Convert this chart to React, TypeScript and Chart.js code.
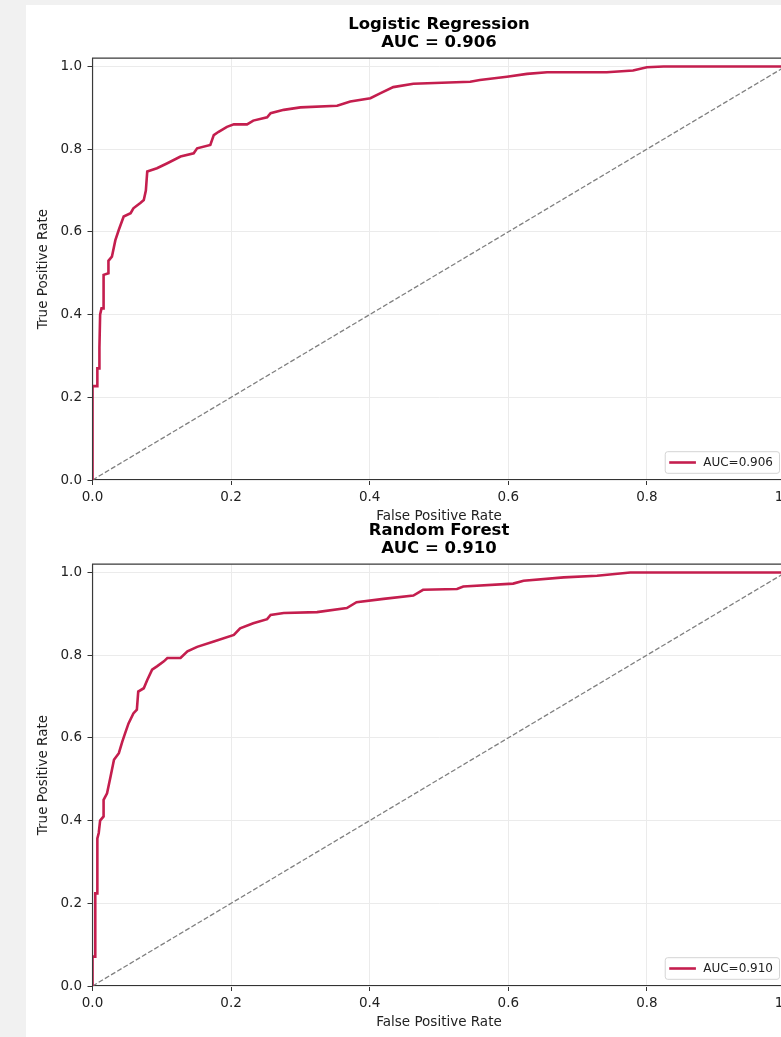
import React, { useEffect, useRef } from 'react';
import { Chart, registerables } from 'chart.js';

Chart.register(...registerables);

// ---- data ----
const models = ['Logistic Regression', 'Random Forest'];
const aucs = ['0.906', '0.910'];

const lrFpr = [0, 0, 0.007, 0.007, 0.010, 0.010, 0.011, 0.013, 0.016, 0.016, 0.023, 0.023, 0.028, 0.033, 0.038, 0.045, 0.055, 0.059, 0.069, 0.074, 0.077, 0.079, 0.093, 0.108, 0.127, 0.146, 0.151, 0.170, 0.175, 0.182, 0.194, 0.204, 0.223, 0.232, 0.252, 0.257, 0.276, 0.300, 0.353, 0.372, 0.401, 0.415, 0.434, 0.463, 0.545, 0.559, 0.598, 0.627, 0.656, 0.742, 0.780, 0.800, 0.824, 1.0];
const lrTpr = [0, 0.227, 0.227, 0.27, 0.27, 0.32, 0.40, 0.415, 0.415, 0.496, 0.50, 0.53, 0.54, 0.58, 0.605, 0.637, 0.645, 0.657, 0.67, 0.677, 0.70, 0.746, 0.754, 0.766, 0.782, 0.790, 0.802, 0.810, 0.834, 0.842, 0.854, 0.860, 0.860, 0.869, 0.877, 0.887, 0.895, 0.901, 0.905, 0.915, 0.923, 0.935, 0.950, 0.958, 0.963, 0.967, 0.975, 0.982, 0.986, 0.986, 0.990, 0.998, 1.0, 1.0];

const rfFpr = [0, 0, 0.004, 0.004, 0.007, 0.007, 0.009, 0.011, 0.016, 0.016, 0.021, 0.026, 0.031, 0.038, 0.043, 0.047, 0.052, 0.059, 0.064, 0.066, 0.074, 0.079, 0.086, 0.093, 0.103, 0.108, 0.127, 0.137, 0.151, 0.175, 0.204, 0.213, 0.232, 0.252, 0.257, 0.276, 0.324, 0.367, 0.381, 0.420, 0.463, 0.477, 0.526, 0.535, 0.607, 0.622, 0.680, 0.728, 0.776, 1.0];
const rfTpr = [0, 0.071, 0.071, 0.224, 0.224, 0.357, 0.37, 0.40, 0.41, 0.45, 0.466, 0.506, 0.547, 0.563, 0.591, 0.611, 0.635, 0.659, 0.668, 0.712, 0.720, 0.740, 0.765, 0.773, 0.785, 0.793, 0.793, 0.809, 0.820, 0.833, 0.849, 0.865, 0.877, 0.887, 0.897, 0.902, 0.904, 0.914, 0.928, 0.936, 0.944, 0.958, 0.960, 0.966, 0.973, 0.980, 0.988, 0.992, 1.0, 1.0];

const diagFpr = [0, 1];
const diagTpr = [0, 1];

const xTicks = [0, 0.2, 0.4, 0.6, 0.8, 1.0];
const yTicks = [0, 0.2, 0.4, 0.6, 0.8, 1.0];

// ---- styling ----
const FONT = "'DejaVu Sans', 'Liberation Sans', sans-serif";
const CURVE = '#c41e4e';

const framePlugin = {
  id: 'frame',
  afterDatasetsDraw(chart: any) {
    const { ctx, chartArea } = chart;
    ctx.save();
    ctx.strokeStyle = '#3a3a3a';
    ctx.lineWidth = 1.1;
    ctx.beginPath();
    ctx.moveTo(chartArea.left, chartArea.bottom);
    ctx.lineTo(chartArea.left, chartArea.top);
    ctx.lineTo(chartArea.right, chartArea.top);
    ctx.lineTo(chartArea.right, chartArea.bottom);
    ctx.stroke();
    ctx.restore();
  },
};

const legendPlugin = {
  id: 'boxLegend',
  afterDraw(chart: any) {
    const { ctx, chartArea } = chart;
    const ds = chart.data.datasets.find((d: any) => d.label);
    if (!ds) return;
    ctx.save();
    ctx.font = `12px ${FONT}`;
    const tw = ctx.measureText(ds.label).width;
    const padL = 4, handle = 26.7, gap = 7.3, padR = 6.5, h = 21.6;
    const w = padL + handle + gap + tw + padR;
    const right = chartArea.right - 6;
    const bottom = chartArea.bottom - 6.7;
    const left = right - w;
    const top = bottom - h;
    ctx.beginPath();
    if (ctx.roundRect) ctx.roundRect(left, top, w, h, 2.5);
    else ctx.rect(left, top, w, h);
    ctx.fillStyle = 'rgba(255,255,255,0.8)';
    ctx.fill();
    ctx.strokeStyle = '#d4d4d4';
    ctx.lineWidth = 1;
    ctx.stroke();
    const cy = top + h / 2;
    ctx.beginPath();
    ctx.moveTo(left + padL, cy);
    ctx.lineTo(left + padL + handle, cy);
    ctx.strokeStyle = ds.borderColor;
    ctx.lineWidth = 2.6;
    ctx.stroke();
    ctx.fillStyle = '#222';
    ctx.textAlign = 'left';
    ctx.textBaseline = 'middle';
    ctx.fillText(ds.label, left + padL + handle + gap, cy);
    ctx.restore();
  },
};

function RocChart({ model, auc, fpr, tpr, top }: { model: string; auc: string; fpr: number[]; tpr: number[]; top: number }) {
  const ref = useRef<HTMLCanvasElement>(null);
  useEffect(() => {
    if (!ref.current) return;
    const chart = new Chart(ref.current, {
      type: 'scatter',
      data: {
        datasets: [
          {
            label: `AUC=${auc}`,
            data: fpr.map((x, i) => ({ x, y: tpr[i] })),
            showLine: true,
            borderColor: CURVE,
            backgroundColor: CURVE,
            borderWidth: 2.6,
            pointRadius: 0,
            tension: 0,
            order: 1,
          },
          {
            label: '',
            data: diagFpr.map((x, i) => ({ x, y: diagTpr[i] })),
            showLine: true,
            borderColor: '#808080',
            borderWidth: 1.3,
            borderDash: [5, 2.2],
            pointRadius: 0,
            order: 2,
          },
        ],
      },
      options: {
        animation: false,
        responsive: false,
        devicePixelRatio: 1,
        events: [],
        layout: { padding: { left: 0, right: 40.5, top: 0, bottom: 0 } },
        plugins: {
          legend: { display: false },
          tooltip: { enabled: false },
          title: {
            display: true,
            fullSize: false,
            text: [model, `AUC = ${auc}`],
            color: '#000',
            font: { family: FONT, size: 16.5, weight: 'bold', lineHeight: 1.12 },
            padding: { top: 15.2, bottom: 6 },
          },
        },
        scales: {
          x: {
            type: 'linear',
            position: 'bottom',
            min: 0,
            max: 1,
            afterBuildTicks: (s: any) => {
              s.ticks = xTicks.map((v) => ({ value: v }));
            },
            afterFit: (s: any) => {
              s.height = 50;
            },
            ticks: {
              callback: (v: any) => Number(v).toFixed(1),
              font: { family: FONT, size: 13.5 },
              color: '#222',
              padding: 4,
              maxRotation: 0,
              autoSkip: false,
            },
            grid: { color: '#ebebeb', tickColor: '#333', tickLength: 5, lineWidth: 1 },
            border: { color: '#333', width: 1.1 },
            title: {
              display: true,
              text: 'False Positive Rate',
              color: '#222',
              font: { family: FONT, size: 13.5 },
              padding: { top: 0, bottom: 5 },
            },
          },
          y: {
            type: 'linear',
            min: 0,
            max: 1.02,
            afterBuildTicks: (s: any) => {
              s.ticks = yTicks.map((v) => ({ value: v }));
            },
            afterFit: (s: any) => {
              s.width = 66.5;
            },
            ticks: {
              callback: (v: any) => Number(v).toFixed(1),
              font: { family: FONT, size: 13.5 },
              color: '#222',
              padding: 5.5,
              autoSkip: false,
            },
            grid: { color: '#ebebeb', tickColor: '#333', tickLength: 5, lineWidth: 1 },
            border: { color: '#333', width: 1.1 },
            title: {
              display: true,
              text: 'True Positive Rate',
              color: '#222',
              font: { family: FONT, size: 13.5 },
              padding: { top: 8.9, bottom: 0 },
            },
          },
        },
      },
      plugins: [framePlugin, legendPlugin],
    } as any);
    return () => chart.destroy();
  }, [model, auc, fpr, tpr]);
  return (
    <canvas
      ref={ref}
      width={800}
      height={530}
      style={{ position: 'absolute', left: 26, top, width: 800, height: 530 }}
    />
  );
}

export default function App() {
  useEffect(() => {
    document.body.style.overflow = 'hidden';
  }, []);
  return (
    <div
      style={{
        position: 'absolute',
        left: 0,
        top: 0,
        width: 781,
        height: 1037,
        overflow: 'hidden',
        background: '#f1f1f1',
      }}
    >
      <div style={{ position: 'absolute', left: 26, top: 5, width: 800, height: 1100, background: '#fff' }} />
      <RocChart model={models[0]} auc={aucs[0]} fpr={lrFpr} tpr={lrTpr} top={0} />
      <RocChart model={models[1]} auc={aucs[1]} fpr={rfFpr} tpr={rfTpr} top={506} />
    </div>
  );
}
